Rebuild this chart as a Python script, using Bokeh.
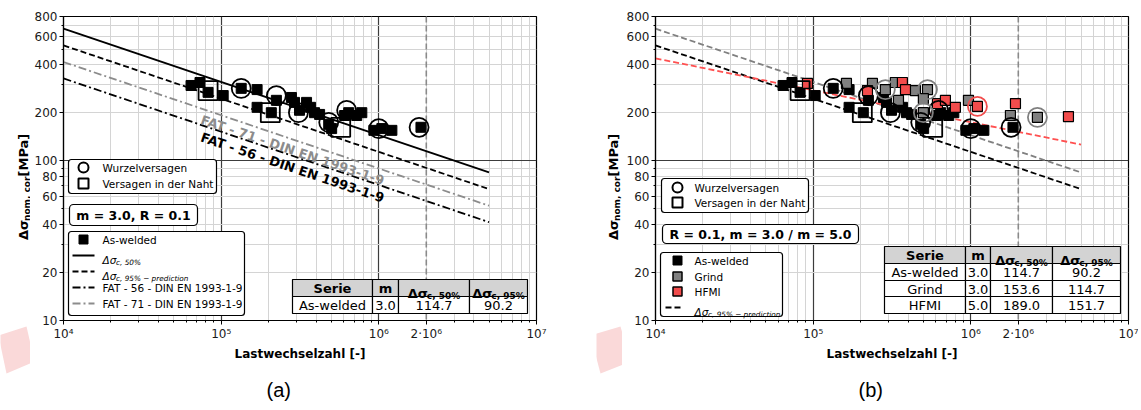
import math
from bokeh.plotting import figure
from bokeh.layouts import row
from bokeh.models import FixedTicker, BoxAnnotation, Label, Span, Title, Range1d
from bokeh.core.properties import value
from bokeh.embed import file_html
from bokeh.resources import INLINE

# ---------------- data ----------------
aw_N = [64400, 73400, 82600, 103000, 134000, 169000, 169000, 208000, 224000, 279000,
        292000, 314000, 348000, 369000, 391000, 421000, 481000, 502000, 607000, 644000,
        724000, 780000, 930000, 1045000, 1210000, 1850000]
aw_S = [296, 309, 268, 256, 284, 279, 216, 200, 239, 249,
        232, 207, 232, 216, 200, 195, 169, 159, 192, 200,
        192, 200, 155, 159, 155, 162]
aw_root_N = [134000, 224000, 309000, 481000, 625000, 1000000, 1800000]
aw_root_S = [284, 256, 200, 174, 207, 159, 162]
aw_seam_N = [82600, 205000, 573000]
aw_seam_S = [275, 200, 162]

grind_N = [162600, 237700, 287000, 332000, 347500, 445000, 531000, 500000, 500000, 966000, 1783000, 2644000]
grind_S = [305, 305, 279, 309, 239, 275, 279, 245, 200, 239, 192, 187]
grind_root_N = [287000, 531000, 500000, 2644000]
grind_root_S = [279, 279, 200, 187]

hfmi_N = [92000, 221000, 368000, 385000, 614000, 690000, 798000, 1101000, 1919000, 4160000]
hfmi_S = [305, 275, 309, 279, 228, 239, 216, 219, 228, 189]
hfmi_root_N = [1101000]
hfmi_root_S = [219]

series = ["As-welded", "Grind", "HFMI"]
series_m = [3.0, 3.0, 5.0]
ds_50 = [114.7, 153.6, 189.0]
ds_95 = [90.2, 114.7, 151.7]
fat_classes = [56, 71]
N_REF = 2e6
N_line = [1e4, 5e6]

x_ticks = [1e4, 1e5, 1e6, 2e6, 1e7]
x_tick_labels = ["10⁴", "10⁵", "10⁶", "2·10⁶", "10⁷"]
y_ticks = [10, 20, 40, 60, 80, 100, 200, 400, 600, 800]
y_tick_labels = ["10", "20", "40", "60", "80", "100", "200", "400", "600", "800"]

leg_root = "Wurzelversagen"
leg_seam = "Versagen in der Naht"
params_a = "m = 3.0, R = 0.1"
params_b = "R = 0.1, m = 3.0 / m = 5.0"
y_label_parts = ["Δσ", "nom, cor", " [MPa]"]
x_label = "Lastwechselzahl [-]"

# ---------------- geometry / styles ----------------
FW, FH = 473, 304
TOTAL_H = 408
FRAME_TOP = 16
X_LO, X_HI = 1e4, 1e7
Y_LO, Y_HI = 10.0, 800.0
LXD = math.log10(X_HI / X_LO)
LYD = math.log10(Y_HI / Y_LO)
FONT = "DejaVu Sans"
GREY = "#808080"
FATGREY = "#8c8c8c"
RED = "#f24c4c"
PINK = "#fad9d9"


def X(px):
    return X_LO * 10 ** (LXD * px / FW)


def Y(py):
    return Y_LO * 10 ** (LYD * (FH - py) / FH)


def py_of(S):
    return FH - math.log10(S / Y_LO) / LYD * FH


def sn(ds, m):
    return [ds * (N_REF / n) ** (1.0 / m) for n in N_line]


def make_fig(bl, br, caption):
    p = figure(frame_width=FW, frame_height=FH, x_axis_type="log", y_axis_type="log",
               x_range=(X_LO, X_HI), y_range=(Y_LO, Y_HI), output_backend="svg",
               toolbar_location=None, min_border_left=bl, min_border_right=br,
               min_border_top=FRAME_TOP, min_border_bottom=TOTAL_H - FRAME_TOP - FH, title=None)
    p.outline_line_color = "black"
    p.outline_line_width = 1.2
    xminor = [k * 10 ** e for e in (4, 5, 6) for k in range(2, 10)]
    yminor = [k * 10 ** e for e in (1, 2) for k in range(2, 10) if k * 10 ** e <= 800]
    p.xaxis.ticker = FixedTicker(ticks=x_ticks, minor_ticks=[v for v in xminor if v != 2e6])
    p.xaxis.major_label_overrides = {float(t): l for t, l in zip(x_ticks, x_tick_labels)}
    p.yaxis.ticker = FixedTicker(ticks=y_ticks, minor_ticks=[v for v in yminor if v not in y_ticks])
    p.yaxis.major_label_overrides = {float(t): l for t, l in zip(y_ticks, y_tick_labels)}
    for ax in (p.xaxis[0], p.yaxis[0]):
        ax.major_label_text_font = FONT
        ax.major_label_text_font_size = "12px"
        ax.major_label_text_color = "#1a1a1a"
        ax.axis_line_color = "black"
        ax.axis_line_width = 1.2
        ax.major_tick_in = 0
        ax.major_tick_out = 4
        ax.minor_tick_in = 0
        ax.minor_tick_out = 2
        ax.major_tick_line_color = "black"
        ax.minor_tick_line_color = "black"
        ax.major_label_standoff = 2
    p.xaxis.axis_label = x_label
    p.xaxis.axis_label_text_font = FONT
    p.xaxis.axis_label_text_font_size = "12px"
    p.xaxis.axis_label_text_font_style = "bold"
    p.xaxis.axis_label_text_color = "black"
    p.xaxis.axis_label_standoff = 3
    p.xgrid.ticker = FixedTicker(ticks=[1e4, 1e5, 1e6, 1e7], minor_ticks=xminor)
    p.ygrid.ticker = FixedTicker(ticks=[10, 100], minor_ticks=yminor)
    for g in (p.xgrid[0], p.ygrid[0]):
        g.grid_line_color = "#3c3c3c"
        g.grid_line_width = 1.2
        g.minor_grid_line_color = "#d4d4d4"
        g.minor_grid_line_width = 1
    # small spacer so that the caption sits a little lower
    p.add_layout(Title(text=" ", text_font_size="2px", standoff=4), "below")
    p.add_layout(Title(text=caption, align="left", offset=203, text_font="Liberation Sans",
                       text_font_size="20px", text_font_style="normal", text_color="black",
                       standoff=10), "below")
    p.add_layout(Span(location=N_REF, dimension="height", line_color="#8a8a8a",
                      line_dash="6 3", line_width=1.6, level="underlay"))
    return p


def lab(p, px, py, text, size=10.5, style="normal", align="left", baseline="middle",
        color="black", angle=0.0, font=FONT):
    p.add_layout(Label(x=X(px), y=Y(py), text=text, text_font=font,
                       text_font_size=f"{size}px", text_font_style=style, text_align=align,
                       text_baseline=baseline, text_color=color, angle=angle))


def box(p, x0, x1, y0, y1, fill="white", radius=3, lw=1.2):
    p.add_layout(BoxAnnotation(left=X(x0), right=X(x1), top=Y(y0), bottom=Y(y1),
                               fill_color=fill, fill_alpha=1.0, line_color="black",
                               line_width=lw, line_alpha=1.0, border_radius=radius,
                               level="underlay"))


def leg_math(p, px, py, sub):
    lab(p, px, py + 4, "Δσ", 10.5, "italic", baseline="alphabetic")
    lab(p, px + 13.5, py + 6.5, sub, 7.3, "italic", baseline="alphabetic")


def table(p, cols, rows_y, idx):
    heads = ["Serie", "m", ("Δσ", "c, 50%"), ("Δσ", "c, 95%")]
    for c in range(4):
        box(p, cols[c], cols[c + 1], rows_y[0], rows_y[1], fill="#d3d3d3", radius=0)
        cx = (cols[c] + cols[c + 1]) / 2
        cy = (rows_y[0] + rows_y[1]) / 2
        h = heads[c]
        if isinstance(h, str):
            lab(p, cx, cy + 0.5, h, 13, "bold", align="center")
        else:
            x0 = cx - 26.2
            lab(p, x0, cy + 5, h[0], 13, "bold", baseline="alphabetic")
            lab(p, x0 + 19, cy + 8, h[1], 9, "bold", baseline="alphabetic")
    for r, i in enumerate(idx):
        y0, y1 = rows_y[r + 1], rows_y[r + 2]
        vals = [series[i], f"{series_m[i]:.1f}", f"{ds_50[i]:.1f}", f"{ds_95[i]:.1f}"]
        for c in range(4):
            box(p, cols[c], cols[c + 1], y0, y1, fill="white", radius=0)
            lab(p, (cols[c] + cols[c + 1]) / 2, (y0 + y1) / 2 + 0.5, vals[c], 13, align="center")


def side_fig(x0, x1, base_x, pink_pts):
    """Narrow strip left of a plot: holds the rotated y-axis title (page coordinates)."""
    f = figure(frame_width=x1 - x0, frame_height=TOTAL_H, x_range=Range1d(x0, x1),
               y_range=Range1d(0, TOTAL_H), output_backend="svg", toolbar_location=None,
               min_border_left=0, min_border_right=0, min_border_top=0, min_border_bottom=0,
               x_axis_location=None, y_axis_location=None, title=None)
    f.outline_line_color = None
    f.grid.visible = False
    f.patch([a for a, b in pink_pts], [TOTAL_H - b for a, b in pink_pts],
            fill_color=PINK, line_alpha=0)
    start = FRAME_TOP + FH / 2 + 55.5
    kw = dict(angle=math.pi / 2, text_font=value(FONT), text_font_style="bold",
              text_align="left", text_baseline="alphabetic", text_color="black")
    f.text([base_x], [TOTAL_H - start], text=[y_label_parts[0]], text_font_size="13px", **kw)
    f.text([base_x + 3], [TOTAL_H - (start - 19)], text=[y_label_parts[1]], text_font_size="9px", **kw)
    f.text([base_x], [TOTAL_H - (start - 63.5)], text=[y_label_parts[2]], text_font_size="13px", **kw)
    return f


# ================= left figure =================
p1 = make_fig(33, 60, "(a)")
p1.line(N_line, sn(ds_50[0], series_m[0]), line_color="black", line_width=1.8)
p1.line(N_line, sn(ds_95[0], series_m[0]), line_color="black", line_width=1.8, line_dash="6 3")
p1.line(N_line, sn(fat_classes[0], 3.0), line_color="black", line_width=1.8, line_dash="8 3 2 3")
p1.line(N_line, sn(fat_classes[1], 3.0), line_color=FATGREY, line_width=1.8, line_dash="8 3 2 3")
p1.scatter(aw_N, aw_S, marker="square", size=10, fill_color="black", line_color="black")
p1.scatter(aw_root_N, aw_root_S, marker="circle", size=19, fill_color=None,
           line_color="black", line_width=1.8)
p1.scatter(aw_seam_N, aw_seam_S, marker="square", size=19, fill_color=None,
           line_color="black", line_width=1.8)

ang = -math.atan((FH / LYD) / (FW / LXD) / 3.0)
for fat, col, dy in ((fat_classes[1], FATGREY, 3), (fat_classes[0], "black", 4)):
    n0 = X(140)
    s0 = fat * (N_REF / n0) ** (1 / 3.0)
    lab(p1, 140, py_of(s0) + dy, f"FAT - {fat} - DIN EN 1993-1-9", 13, "bold",
        baseline="top", color=col, angle=ang)

box(p1, 5, 153, 143, 177)
p1.scatter([X(20)], [Y(151)], marker="circle", size=10, fill_color=None, line_color="black", line_width=2)
p1.scatter([X(20)], [Y(167)], marker="square", size=10, fill_color=None, line_color="black", line_width=2)
lab(p1, 39, 151, leg_root)
lab(p1, 39, 167, leg_seam)
box(p1, 6, 134, 188, 209, radius=4)
lab(p1, 70, 198.5, params_a, 12.5, "bold", align="center")
box(p1, 5, 181, 215, 299)
rows2 = [223, 239, 255, 271, 287]
p1.scatter([X(20)], [Y(rows2[0])], marker="square", size=9, fill_color="black", line_color="black")
p1.line([X(9), X(31)], [Y(rows2[1])] * 2, line_color="black", line_width=1.8)
p1.line([X(9), X(31)], [Y(rows2[2])] * 2, line_color="black", line_width=1.8, line_dash="6 3")
p1.line([X(9), X(31)], [Y(rows2[3])] * 2, line_color="black", line_width=1.8, line_dash="8 3 2 3")
p1.line([X(9), X(31)], [Y(rows2[4])] * 2, line_color=FATGREY, line_width=1.8, line_dash="8 3 2 3")
lab(p1, 39, rows2[0], series[0])
leg_math(p1, 39, rows2[1], "c, 50%")
leg_math(p1, 39, rows2[2], "c, 95% − prediction")
lab(p1, 39, rows2[3], f"FAT - {fat_classes[0]} - DIN EN 1993-1-9")
lab(p1, 39, rows2[4], f"FAT - {fat_classes[1]} - DIN EN 1993-1-9")
table(p1, [229, 309, 335, 406, 464], [263, 280, 297], [0])

# ================= right figure =================
p2 = make_fig(33, 10, "(b)")
p2.line(N_line, sn(ds_95[0], series_m[0]), line_color="black", line_width=1.8, line_dash="6 3")
p2.line(N_line, sn(ds_95[1], series_m[1]), line_color=GREY, line_width=1.8, line_dash="6 3")
p2.line(N_line, sn(ds_95[2], series_m[2]), line_color="#ff5050", line_width=1.8, line_dash="6 3")
p2.scatter(aw_N, aw_S, marker="square", size=10, fill_color="black", line_color="black")
p2.scatter(grind_N, grind_S, marker="square", size=10, fill_color=GREY, line_color="black", line_width=1.2)
p2.scatter(hfmi_N, hfmi_S, marker="square", size=10, fill_color=RED, line_color="black", line_width=1.2)
p2.scatter(aw_root_N, aw_root_S, marker="circle", size=19, fill_color=None, line_color="black", line_width=1.8)
p2.scatter(aw_seam_N, aw_seam_S, marker="square", size=19, fill_color=None, line_color="black", line_width=1.8)
p2.scatter(grind_root_N, grind_root_S, marker="circle", size=19, fill_color=None, line_color=GREY, line_width=1.8)
p2.scatter(hfmi_root_N, hfmi_root_S, marker="circle", size=19, fill_color=None, line_color=RED, line_width=1.8)

box(p2, 6, 153, 162, 196)
p2.scatter([X(22)], [Y(171)], marker="circle", size=10, fill_color=None, line_color="black", line_width=2)
p2.scatter([X(22)], [Y(186)], marker="square", size=10, fill_color=None, line_color="black", line_width=2)
lab(p2, 39, 171, leg_root)
lab(p2, 39, 186, leg_seam)
box(p2, 7, 203, 208, 227, radius=4)
lab(p2, 105, 217.5, params_b, 12.5, "bold", align="center")
box(p2, 5, 127, 236, 300)
rows3 = [244, 260, 275, 291]
p2.scatter([X(22)], [Y(rows3[0])], marker="square", size=9, fill_color="black", line_color="black")
p2.scatter([X(22)], [Y(rows3[1])], marker="square", size=9, fill_color=GREY, line_color="black", line_width=1.5)
p2.scatter([X(22)], [Y(rows3[2])], marker="square", size=9, fill_color=RED, line_color="black", line_width=1.5)
p2.line([X(10), X(28)], [Y(rows3[3])] * 2, line_color="black", line_width=1.8, line_dash="6 3")
lab(p2, 39, rows3[0], series[0])
lab(p2, 39, rows3[1], series[1])
lab(p2, 39, rows3[2], series[2])
leg_math(p2, 39, rows3[3], "c, 95% − prediction")
table(p2, [229, 310, 335, 397, 465], [230, 247, 264, 280, 297], [0, 1, 2])

s1 = side_fig(0, 30, 23, [(-2, 319), (26, 310), (34, 345), (6, 357)])
s2 = side_fig(596, 622, 613, [(590, 319), (620, 310), (630, 345), (600, 357)])

layout = row(s1, p1, s2, p2)
open("out.html", "w").write(file_html(layout, INLINE))
